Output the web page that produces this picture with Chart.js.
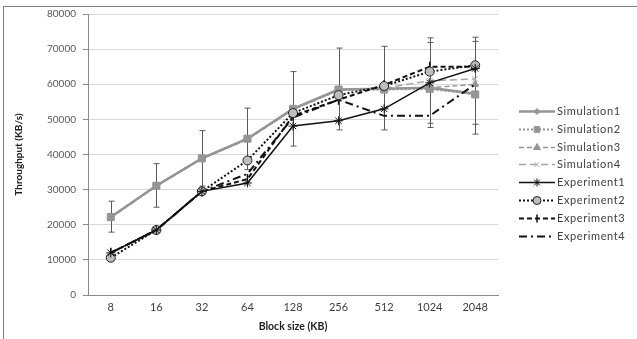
<!DOCTYPE html>
<html>
<head>
<meta charset="utf-8">
<script src="https://cdn.jsdelivr.net/npm/chart.js@4"></script>
<style>
  html, body { margin: 0; padding: 0; background: #fff; }
  #wrap { position: relative; width: 637px; height: 339px; }
  #frame { position: absolute; left: 3px; top: 6px; width: 640px; height: 340px;
           border-top: 1px solid #7f7f7f; border-left: 1px solid #7f7f7f; }
  canvas { position: absolute; left: 0; top: 0; }
</style>
</head>
<body>
<div id="wrap">
  <div id="frame"></div>
  <canvas id="tputChart" width="637" height="339"></canvas>
</div>
<script>
// block sizes (KB)
const blockSizes = ['8', '16', '32', '64', '128', '256', '512', '1024', '2048'];

// throughput (KB/s)
const sim1 = [22200, 31100, 38900, 44500, 53000, 58500, 58700, 59000, 57300];
const sim2 = [22200, 31100, 38900, 44500, 53000, 58500, 58500, 58700, 57100];
const sim3 = [22000, 31000, 38800, 44300, 52800, 58300, 58800, 59000, 60000];
const sim4 = [22100, 31100, 38900, 44400, 52900, 58400, 58900, 61000, 61500];
const exp1 = [12000, 18500, 29500, 31900, 48100, 49600, 53000, 60400, 64500];
const exp2 = [10600, 18500, 29500, 38300, 51800, 56900, 59500, 63600, 65400];
const exp3 = [12000, 18500, 29500, 33000, 51000, 55600, 59800, 65000, 65000];
const exp4 = [12000, 18500, 29500, 34500, 50500, 55600, 51000, 51000, 60000];

// error bars (low / high)
const sim2ErrLow  = [17900, 25000, 31000, 35700, 42400, 47000, 47000, 47700, 45800];
const sim2ErrHigh = [26700, 37400, 46800, 53200, 63600, 70300, 70800, 73200, 73400];
const expErrLow   = [null, null, null, null, null, null, null, 48900, 48600];
const expErrHigh  = [null, null, null, null, null, null, null, 71900, 72200];

const GRAY = '#959595';
const BLACK = '#111';

// error bars drawn through the scales, under the lines
const errorBars = {
  id: 'errorBars',
  beforeDatasetsDraw(chart) {
    const { ctx, scales: { x, y } } = chart;
    const sets = [[sim2ErrLow, sim2ErrHigh], [expErrLow, expErrHigh]];
    ctx.save();
    ctx.strokeStyle = '#5a5a5a';
    ctx.lineWidth = 1;
    sets.forEach(([lo, hi]) => {
      lo.forEach((v, i) => {
        if (v == null) return;
        const px = Math.round(x.getPixelForValue(i)) + 0.5;
        const y1 = y.getPixelForValue(v), y2 = y.getPixelForValue(hi[i]);
        ctx.beginPath();
        ctx.moveTo(px, y1); ctx.lineTo(px, y2);
        ctx.moveTo(px - 3, y1); ctx.lineTo(px + 3, y1);
        ctx.moveTo(px - 3, y2); ctx.lineTo(px + 3, y2);
        ctx.stroke();
      });
    });
    ctx.restore();
  }
};

// legend at the right with line samples + markers
const sideLegend = {
  id: 'sideLegend',
  afterDraw(chart) {
    const ctx = chart.ctx;
    const x0 = 519, x1 = 555, top = 111, step = 17.8;
    chart.data.datasets.forEach((ds, i) => {
      const yy = Math.round(top + i * step) + 0.5;
      ctx.save();
      ctx.strokeStyle = ds.borderColor;
      ctx.lineWidth = ds.borderWidth;
      ctx.setLineDash(ds.borderDash || []);
      ctx.beginPath();
      ctx.moveTo(x0, yy); ctx.lineTo(x1, yy);
      ctx.stroke();
      ctx.setLineDash([]);
      if (ds.pointStyle) {
        ctx.fillStyle = ds.pointBackgroundColor;
        ctx.strokeStyle = ds.pointBorderColor;
        ctx.lineWidth = ds.pointBorderWidth;
        Chart.helpers.drawPoint(ctx, {
          pointStyle: ds.pointStyle, rotation: ds.pointRotation || 0,
          radius: Math.min(ds.pointRadius, 4), borderWidth: ds.pointBorderWidth
        }, (x0 + x1) / 2, yy);
      }
      ctx.fillStyle = '#404040';
      ctx.font = '11px Lato';
      ctx.letterSpacing = '0.6px';
      ctx.textBaseline = 'middle';
      ctx.fillText(ds.label, x1 + 2, yy);
      ctx.restore();
    });
  }
};

function simSet(label, data, dash, style, radius, width) {
  return {
    label, data, borderColor: GRAY, borderWidth: width, borderDash: dash,
    pointStyle: style, pointRadius: radius, pointBackgroundColor: GRAY,
    pointBorderColor: GRAY, pointBorderWidth: 1, order: 2, tension: 0
  };
}

const ctx = document.getElementById('tputChart');
new Chart(ctx, {
  type: 'line',
  data: {
    labels: blockSizes,
    datasets: [
      simSet('Simulation1', sim1, [], 'rectRot', 3, 2.5),
      simSet('Simulation2', sim2, [2, 2], 'rect', 5, 2),
      simSet('Simulation3', sim3, [5, 3], 'triangle', 4, 1.5),
      { ...simSet('Simulation4', sim4, [7, 4], 'crossRot', 4, 1.5), pointBorderColor: '#b5b5b5', borderColor: '#a5a5a5' },
      { label: 'Experiment1', data: exp1, borderColor: BLACK, borderWidth: 1.5, borderDash: [],
        pointStyle: 'star', pointRadius: 4.5, pointBackgroundColor: BLACK, pointBorderColor: BLACK,
        pointBorderWidth: 1, order: 1 },
      { label: 'Experiment2', data: exp2, borderColor: BLACK, borderWidth: 2, borderDash: [2, 2],
        pointStyle: 'circle', pointRadius: 4.5, pointBackgroundColor: '#bdbdbd', pointBorderColor: '#222',
        pointBorderWidth: 1, order: 1 },
      { label: 'Experiment3', data: exp3, borderColor: BLACK, borderWidth: 2, borderDash: [5, 3],
        pointStyle: 'line', pointRotation: 90, pointRadius: 5, pointBackgroundColor: BLACK,
        pointBorderColor: BLACK, pointBorderWidth: 1.5, order: 1 },
      { label: 'Experiment4', data: exp4, borderColor: BLACK, borderWidth: 2, borderDash: [8, 4, 2, 4],
        pointStyle: false, pointRadius: 0, order: 1 }
    ]
  },
  options: {
    responsive: false,
    animation: false,
    layout: { padding: { top: 14, right: 139, bottom: 6, left: 0 } },
    plugins: {
      legend: { display: false },
      tooltip: { enabled: false }
    },
    scales: {
      x: {
        offset: true,
        grid: { display: true, color: 'transparent', drawTicks: false },
        border: { color: '#8a8a8a' },
        ticks: { color: '#404040', font: { family: 'Lato', size: 11 }, padding: 6, maxRotation: 0 },
        title: { display: true, text: 'Block size (KB)', color: '#222',
                 font: { family: 'Lato', size: 10.5, weight: 'bold' }, padding: { top: 0, bottom: 0 } },
        afterFit(scale) { scale.height = 38; }
      },
      y: {
        min: 0, max: 80000,
        ticks: { stepSize: 10000, color: '#595959', font: { family: 'Lato', size: 10 }, padding: 7,
                 callback: (v) => String(v) },
        grid: { color: '#d9d9d9', tickLength: 5, tickColor: '#8a8a8a' },
        border: { color: '#8a8a8a' },
        title: { display: true, text: 'Throughput (KB/s)', color: '#222',
                 font: { family: 'Lato', size: 10, weight: 'bold' }, padding: { top: 13, bottom: 0 } },
        afterFit(scale) { scale.width = 88; }
      }
    }
  },
  plugins: [errorBars, sideLegend]
});
</script>
</body>
</html>
